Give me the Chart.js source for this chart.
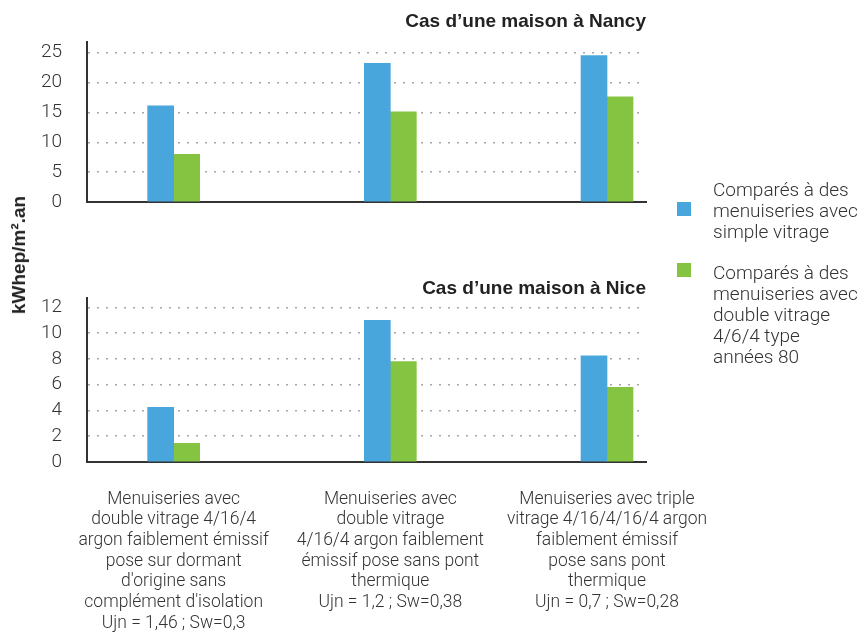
<!DOCTYPE html>
<html lang="fr">
<head>
<meta charset="utf-8">
<title>Cas d'une maison à Nancy / Nice</title>
<script src="https://cdn.jsdelivr.net/npm/chart.js@4.4.1/dist/chart.umd.min.js"></script>
<style>
  html, body { margin: 0; padding: 0; background: #fff; }
  body { position: relative; width: 865px; height: 632px; overflow: hidden; color: #333; }
  canvas { position: absolute; left: 0; }
  #chartNancy { top: 0; }
  #chartNice { top: 260px; }
  #yTitle {
    position: absolute; left: 18.5px; top: 255px;
    transform: translate(-50%, -50%) rotate(-90deg);
    font: bold 19px "Liberation Sans", Arial, sans-serif; color: #222; white-space: nowrap;
  }
  .swatch { position: absolute; left: 677px; width: 14px; height: 14px; z-index: 2; }
  .legendText {
    position: absolute; left: 713px; z-index: 2;
    font-family: Roboto, "Liberation Sans", sans-serif; font-weight: 300;
    font-size: 19px; line-height: 21px; color: #333; white-space: nowrap;
  }
  #sw0 { top: 202px; }
  #sw1 { top: 263px; }
  #lt0 { top: 179px; }
  #lt1 { top: 262px; }
</style>
</head>
<body>
<canvas id="chartNancy" width="780" height="215"></canvas>
<canvas id="chartNice" width="780" height="372"></canvas>
<div id="yTitle">kWhep/m².an</div>
<div class="swatch" id="sw0"></div>
<div class="legendText" id="lt0"></div>
<div class="swatch" id="sw1"></div>
<div class="legendText" id="lt1"></div>

<script>
// categories (one line per entry, as in the figure)
const categories = [
    ['Menuiseries avec', 'double vitrage 4/16/4', 'argon faiblement émissif', 'pose sur dormant', "d'origine sans", "complément d'isolation", 'Ujn = 1,46 ; Sw=0,3'],
    ['Menuiseries avec', 'double vitrage', '4/16/4 argon faiblement', 'émissif pose sans pont', 'thermique', 'Ujn = 1,2 ; Sw=0,38'],
    ['Menuiseries avec triple', 'vitrage 4/16/4/16/4 argon', 'faiblement émissif', 'pose sans pont', 'thermique', 'Ujn = 0,7 ; Sw=0,28']
];

const seriesNames = [
    ['Comparés à des', 'menuiseries avec', 'simple vitrage'],
    ['Comparés à des', 'menuiseries avec', 'double vitrage', '4/6/4 type', 'années 80']
];
const seriesColors = ['#48a6dc', '#84c441'];

// kWhep/m².an
const nancySimple = [16.1, 23.2, 24.5];
const nancyDouble = [8.0, 15.1, 17.6];
const niceSimple = [4.25, 11.0, 8.25];
const niceDouble = [1.45, 7.8, 5.8];

const nancyTitle = 'Cas d’une maison à Nancy';
const niceTitle = 'Cas d’une maison à Nice';

// y tick labels
const nancyTicks = [0, 5, 10, 15, 20, 25];
const niceTicks = [0, 2, 4, 6, 8, 10, 12];
const nancyMax = 26.8;
const niceMax = 12.7;

function toPoints(values) {
    return values.map((v, i) => ({x: i, y: v}));
}

function makeChart(id, titleText, simple, double, axisMax, tickValues, cfg) {
    const ctx = document.getElementById(id).getContext('2d');
    return new Chart(ctx, {
        type: 'bar',
        data: {
            datasets: [
                {
                    label: seriesNames[0].join(' '),
                    data: toPoints(simple),
                    backgroundColor: seriesColors[0],
                    borderWidth: 0,
                    barThickness: 26
                },
                {
                    label: seriesNames[1].join(' '),
                    data: toPoints(double),
                    backgroundColor: seriesColors[1],
                    borderWidth: 0,
                    barThickness: 26
                }
            ]
        },
        options: {
            responsive: false,
            animation: false,
            layout: {padding: {right: 134}},
            plugins: {
                legend: {display: false},
                tooltip: {enabled: false},
                title: {
                    display: true,
                    text: titleText,
                    align: 'end',
                    fullSize: false,
                    color: '#222',
                    font: {family: '"Liberation Sans", Arial, sans-serif', size: 19, weight: 'bold', lineHeight: 1.05},
                    padding: cfg.titlePadding
                }
            },
            scales: {
                x: {
                    type: 'linear',
                    offset: false,
                    min: -0.4,
                    max: 2.18,
                    grid: {display: false, drawTicks: false},
                    border: {display: true, color: '#333', width: 2},
                    ticks: {
                        display: cfg.showLabels,
                        autoSkip: false,
                        maxRotation: 0,
                        minRotation: 0,
                        includeBounds: false,
                        padding: 27,
                        color: '#333',
                        font: {family: 'Roboto, "Liberation Sans", sans-serif', size: 17.5, weight: 300, lineHeight: 1.18},
                        callback: (value) => categories[value] || ''
                    },
                    afterBuildTicks: (scale) => {
                        scale.ticks = categories.map((c, i) => ({value: i}));
                    },
                    afterFit: (scale) => {
                        scale.height = cfg.xHeight;
                        scale.paddingLeft = 0;
                        scale.paddingRight = 0;
                    }
                },
                y: {
                    min: 0,
                    max: axisMax,
                    ticks: {
                        padding: 25,
                        color: '#333',
                        font: {family: 'Roboto, "Liberation Sans", sans-serif', size: 19, weight: 300}
                    },
                    grid: {color: '#a6a6a6', lineWidth: 1.5, drawTicks: false},
                    border: {display: true, color: '#333', width: 2, dash: [2, 7]},
                    afterBuildTicks: (scale) => {
                        scale.ticks = tickValues.map(v => ({value: v}));
                    },
                    afterFit: (scale) => {
                        // keep the plot area where the figure has it
                        scale.width = 87;
                        scale.paddingTop = 0;
                        scale.paddingBottom = 0;
                    }
                }
            }
        }
    });
}

makeChart('chartNancy', nancyTitle, nancySimple, nancyDouble, nancyMax, nancyTicks, {
    titlePadding: {top: 11.5, bottom: 10.5},
    showLabels: false,
    xHeight: 13
});

makeChart('chartNice', niceTitle, niceSimple, niceDouble, niceMax, niceTicks, {
    titlePadding: {top: 18.5, bottom: 0},
    showLabels: true,
    xHeight: 170
});

// legend
seriesNames.forEach((lines, i) => {
    document.getElementById('sw' + i).style.background = seriesColors[i];
    document.getElementById('lt' + i).innerHTML = lines.join('<br>');
});
</script>
</body>
</html>
